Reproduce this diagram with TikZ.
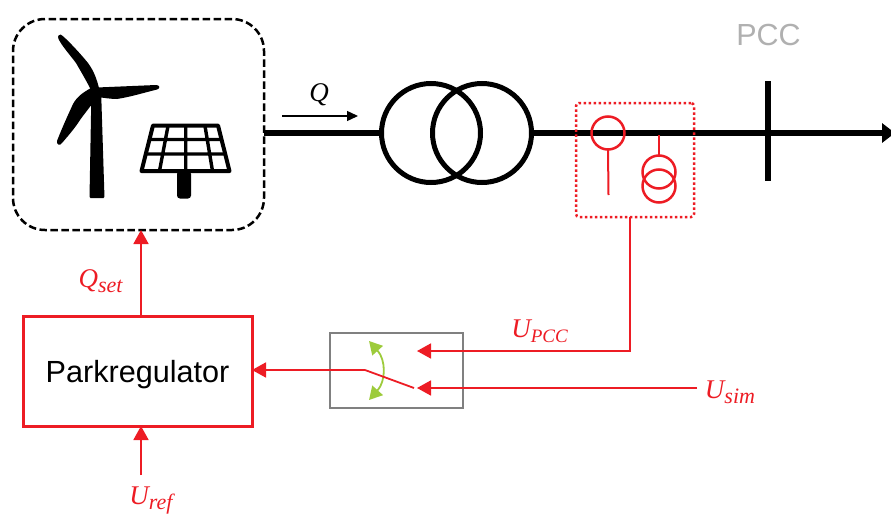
\documentclass[tikz,border=0pt]{standalone}
\usepackage{fontspec}
\setmainfont{Liberation Sans}
\newfontfamily\labfont{Liberation Serif}
\usetikzlibrary{arrows.meta,calc}
\definecolor{rd}{HTML}{ED1C24}
\definecolor{grn}{HTML}{9DCB3B}
\definecolor{gry}{HTML}{808080}
\definecolor{pccg}{HTML}{B0B0B0}
\newcommand{\mylab}[3][22]{{\color{rd}\labfont\itshape\fontsize{27}{27}\selectfont #2\raisebox{-5pt}{\fontsize{#1}{#1}\selectfont #3}}}
\tikzset{
  x=1pt,y=-1pt,
  power/.style={draw=black,line width=5.5pt},
  winding/.style={circle,draw=black,line width=5pt,minimum size=99pt,inner sep=0,outer sep=0},
  sig/.style={draw=rd,line width=1.8pt},
  sigarrow/.style={sig,-{Triangle[length=14pt,width=15pt]}},
  sensor/.style={circle,draw=rd,line width=2.5pt,inner sep=0,outer sep=0,minimum size=33pt},
  lab/.style={inner sep=0,outer sep=0},
  box/.style={rectangle,inner sep=0,outer sep=0}
}
\begin{document}
\begin{tikzpicture}
\useasboundingbox (0,0) rectangle (891,514);
% plant box
\node[box,draw=black,line width=2.5pt,dash pattern=on 7.5pt off 3.5pt,rounded corners=32pt,minimum width=251pt,minimum height=211pt] (plant) at (138.5,124.5) {};
% turbine
\fill[black,rounded corners=1pt] (91.5,88) -- (101,88) -- (104.5,198) -- (89.5,198) -- cycle;
\fill[black] (60.5,34.5) .. controls (63,35) and (80,53) .. (88,63) .. controls (94,71) and (97,80) .. (99,88)
  -- (91,90) .. controls (86,80) and (80,70) .. (76,63) .. controls (70,55) and (62,46) .. (58.5,39) .. controls (57.5,36) and (58.5,34.5) .. (60.5,34.5) -- cycle;
\fill[black] (97,87.5) -- (156,85) .. controls (160,85) and (160.5,88.5) .. (157,89.5) .. controls (143,93) and (130,97) .. (117,99) .. controls (111,99) and (105,98) .. (97,97) -- cycle;
\fill[black] (91,88) .. controls (82,93) and (77,97) .. (73,104) .. controls (68,115) and (62,128) .. (57,141) .. controls (56.5,145) and (60,146) .. (62,143) .. controls (68,136) and (75,128) .. (80,120) .. controls (85,113) and (90,107) .. (95,100) -- cycle;
% solar panel
\draw[black,line width=4pt,line join=round] (153,125.5) -- (218,125.5) -- (229.5,171) -- (141.5,171) -- cycle;
\draw[black,line width=3.4pt] (148.5,139.5) -- (222,139.5) (145,154) -- (226,154)
  (168,126) -- (159.5,171) (185.7,126) -- (185.7,171) (205,126) -- (212.5,171);
\fill[black,rounded corners=3pt] (177,171) -- (191,171) -- (191,198.5) -- (177,198.5) -- cycle;
% power line
\node[winding] (t1) at (431,133) {};
\node[winding] (t2) at (482,133) {};
\coordinate (busend) at (895,133);
\draw[power] (plant.east |- t1) -- (t1.west);
\draw[power,-{Triangle[length=13pt,width=19pt]}] (t2.east) -- (busend);
% PCC bar
\coordinate (pcctop) at (768,81);
\coordinate (pccbot) at (768,181);
\draw[black,line width=5.5pt] (pcctop) -- (pccbot);
\node[lab,text=pccg,font=\fontsize{30.5}{30.5}\selectfont] (pcc) at (768.5,35) {PCC};
% Q arrow
\coordinate (qa) at (282,116);
\coordinate (qb) at (358,116);
\draw[black,line width=1.4pt,-{Triangle[length=11pt,width=10pt]}] (qa) -- (qb);
\node[lab] (qlab) at (319,95) {\labfont\itshape\fontsize{27}{27}\selectfont Q};
% measurement
\node[box,draw=rd,line width=2.5pt,dash pattern=on 2.5pt off 2.5pt,rounded corners=3pt,minimum width=118pt,minimum height=114pt] (meas) at (635,160) {};
\node[sensor] (ct) at (608,133) {};
\coordinate (ctend) at (608.5,195);
\draw[rd,line width=2pt] (ct.south) -- (ctend);
\node[sensor] (vt1) at (659,172) {};
\node[sensor] (vt2) at (659,186) {};
\coordinate (vttop) at (659,135);
\draw[rd,line width=2pt] (vttop) -- (vt1.north);
% switch box
\node[box,draw=gry,line width=1.5pt,minimum width=133pt,minimum height=75pt] (sw) at (396.5,370.5) {};
\coordinate (upcctip) at (417,351);
\coordinate (usimtip) at (417,388);
\coordinate (usimstart) at (697,388);
\coordinate (pivot) at (365,370);
\coordinate (contact) at (414,388);
\coordinate (gtop) at (369,341);
\coordinate (gbot) at (369,400);
\draw[grn,line width=1.8pt,{Triangle[length=13pt,width=14pt]}-{Triangle[length=13pt,width=14pt]}] (gtop) .. controls (386,360) and (386,381) .. (gbot);
% regulator
\node[box,draw=rd,line width=3pt,minimum width=229pt,minimum height=110pt,text height=22pt,text depth=0pt,font=\fontsize{30.6}{30.6}\selectfont] (reg) at (137.5,371) {Parkregulator};
\draw[sigarrow] (meas.south -| 630,0) -- (630,351) -- (upcctip);
\draw[sigarrow] (usimstart) -- (usimtip);
\draw[sig] (contact) -- (pivot);
\draw[sigarrow] (pivot) -- (reg.east |- pivot);
\draw[sigarrow] (reg.north -| 141,0) -- (plant.south -| 141,0);
\coordinate (uref) at (141,475);
\draw[sigarrow] (uref) -- (reg.south -| 141,0);
% labels
\node[lab] (qset) at (100.5,281) {\mylab{Q}{set}};
\node[lab] (urefl) at (151,500) {\mylab{U}{ref}};
\node[lab] (upcc) at (539.5,331) {\mylab[19]{U}{PCC}};
\node[lab] (usim) at (730,392) {\mylab{U}{sim}};
\end{tikzpicture}
\end{document}
